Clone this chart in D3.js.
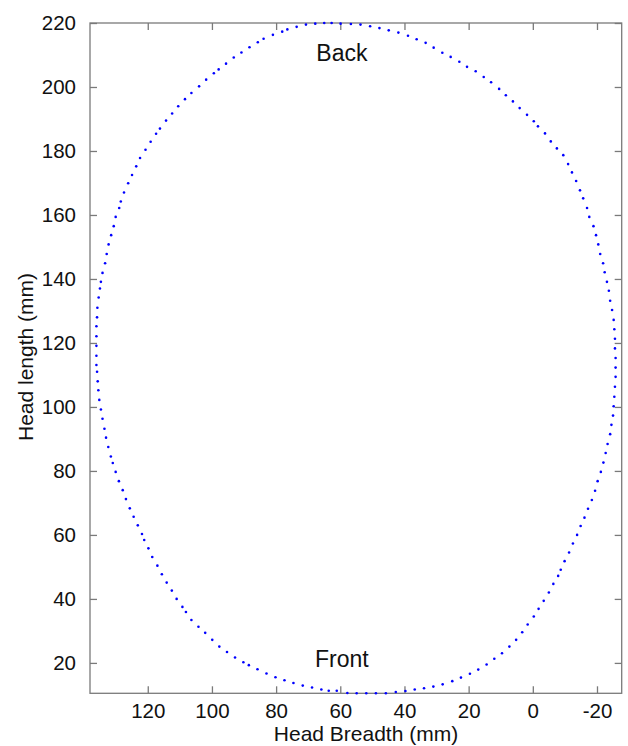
<!DOCTYPE html>
<html lang="en">
  <head>
    <meta charset="utf-8"/>
    <title>Head outline</title>
    <script src="https://cdn.jsdelivr.net/npm/d3@7/dist/d3.min.js"></script>
    <style>
      body { margin: 0; background: #fff; }
      svg text { font-family: "Liberation Sans", Arial, sans-serif; fill: #111; }
    </style>
  </head>
  <body>
    <div id="chart"></div>
    <script type="text/javascript">
     // outline points (mm)
     const breadth = [
       127.4,126.1,124.9,123.6,122.4,120.7,119.1,117.4,116.2,114.3,
       112.4,110.5,108.4,106.4,104.0,101.8,99.4,97.9,95.6,93.2,
       90.8,88.3,85.7,83.9,81.0,78.1,76.5,73.6,70.7,67.8,
       65.0,62.7,59.9,56.7,53.7,50.7,47.8,44.9,41.9,38.9,
       36.2,33.4,30.9,28.2,25.6,22.9,20.5,17.8,15.3,13.0,
       10.5,8.4,6.2,4.1,1.8,-0.3,-1.6,-3.8,-5.6,-7.5,
       -9.5,-11.0,-12.2,-13.5,-14.7,-15.7,-16.9,-17.6,-18.9,-19.7,
       -20.4,-21.0,-21.9,-22.4,-23.1,-23.7,-24.1,-24.7,-25.2,-25.4,
       -25.6,-25.6,-25.8,-25.8,-25.8,-25.6,-25.4,-25.2,-25.0,-24.5,
       -24.1,-23.3,-22.7,-22.0,-21.2,-20.2,-19.4,-18.4,-17.2,-16.1,
       -14.9,-13.8,-12.5,-11.3,-9.9,-8.7,-7.9,-6.4,-5.0,-3.4,
       -1.8,-0.3,1.6,3.3,5.2,7.3,9.6,12.0,14.4,17.0,
       19.6,22.4,25.1,28.1,31.0,33.9,36.8,39.7,42.7,45.8,
       48.9,51.9,54.9,57.8,61.1,63.6,65.9,68.8,71.7,74.6,
       77.4,80.2,83.0,85.8,88.5,90.2,92.8,95.3,97.7,99.9,
       102.1,104.2,106.4,108.1,109.2,111.0,112.5,114.1,115.6,117.0,
       118.6,119.8,121.1,121.8,123.1,124.4,125.6,126.8,127.8,129.0,
       130.0,130.9,131.5,132.3,133.0,133.5,134.1,134.6,135.1,135.4,
       135.6,135.8,136.0,136.0,136.0,136.0,136.0,135.8,135.7,135.3,
       134.9,134.6,134.1,133.3,132.8,132.2,131.4,130.6,130.0,128.9,
       128.4
     ];

     const length = [
       167.0,169.9,172.5,175.2,177.8,180.4,182.9,185.4,187.0,189.5,
       191.7,194.0,196.2,198.1,200.2,202.3,204.3,205.5,207.3,209.2,
       210.8,212.4,214.0,215.1,216.3,217.3,218.0,218.8,219.5,219.8,
       220.0,220.0,219.8,219.7,219.5,219.0,218.4,217.7,217.0,216.0,
       214.9,213.8,212.3,210.7,209.4,207.9,206.3,204.9,203.1,201.5,
       199.4,197.4,195.5,193.4,191.3,189.3,187.7,185.5,183.0,180.8,
       178.7,175.9,173.3,170.6,167.7,165.2,162.2,159.4,156.5,153.7,
       150.8,147.8,144.9,142.1,139.1,136.3,133.2,130.3,127.2,124.3,
       121.3,118.3,115.3,112.3,109.4,106.3,103.2,100.2,97.3,94.4,
       91.5,88.4,85.6,82.6,79.7,76.8,73.8,70.9,68.2,65.4,
       62.8,60.0,57.3,54.5,51.8,49.1,47.2,44.7,42.0,39.4,
       36.9,34.5,32.0,29.6,27.2,25.1,23.0,21.3,19.5,17.9,
       16.6,15.4,14.3,13.3,12.6,12.1,11.7,11.2,10.9,10.5,
       10.5,10.5,10.5,10.6,11.3,11.3,11.7,12.3,12.9,13.7,
       14.6,15.5,16.7,18.0,19.3,20.2,21.7,23.4,25.1,27.2,
       29.4,31.3,33.4,35.9,37.5,40.0,42.6,45.1,47.7,50.4,
       53.1,55.8,58.4,60.3,63.0,65.7,68.3,71.2,74.0,76.8,
       79.7,82.5,84.5,87.5,90.4,93.2,96.3,99.2,102.2,105.2,
       108.0,111.0,113.1,116.0,119.1,122.1,125.2,128.0,131.0,134.2,
       137.0,139.1,141.9,144.9,147.8,150.8,153.7,156.5,159.4,162.2,
       164.2
     ];

     const xTicks = [120, 100, 80, 60, 40, 20, 0, -20];
     const yTicks = [20, 40, 60, 80, 100, 120, 140, 160, 180, 200, 220];
     const xDomain = [138, -27.7];
     const yDomain = [10.5, 220];

     const notes = [
       {text: "Back",  x: 59.5, y: 208.1},
       {text: "Front", x: 59.5, y: 18.8}
     ];

     function HeadOutline() {
         let svgWidth = 628,
             svgHeight = 746;

         let margin = { top: 23, right: 6.3, bottom: 52.7, left: 90 },
             width = svgWidth - margin.left - margin.right,
             height = svgHeight - margin.top - margin.bottom;

         let svg = d3.select("#chart")
                     .append("svg")
                     .attr("width", svgWidth)
                     .attr("height", svgHeight)
                     .append("g")
                     .attr("transform", `translate(${margin.left}, ${margin.top})`);

         let xScale = d3.scaleLinear().domain(xDomain).range([0, width]);
         let yScale = d3.scaleLinear().domain(yDomain).range([height, 0]);

         let fmt = d => String(d);
         let axisColor = "#7a7a7a";

         // ticks point inwards on all four sides
         let xAxis = d3.axisBottom(xScale).tickValues(xTicks).tickFormat(fmt)
                       .tickSizeInner(-7).tickSizeOuter(0).tickPadding(10);
         let yAxis = d3.axisLeft(yScale).tickValues(yTicks).tickFormat(fmt)
                       .tickSizeInner(-7).tickSizeOuter(0).tickPadding(14);
         let xTop = d3.axisTop(xScale).tickValues(xTicks).tickFormat("")
                      .tickSizeInner(-7).tickSizeOuter(0);
         let yRight = d3.axisRight(yScale).tickValues(yTicks).tickFormat("")
                        .tickSizeInner(-7).tickSizeOuter(0);

         let gx = svg.append("g").attr("class", "x-axis")
                     .attr("transform", `translate(0, ${height})`).call(xAxis);
         let gy = svg.append("g").attr("class", "y-axis").call(yAxis);
         let gt = svg.append("g").call(xTop);
         let gr = svg.append("g").attr("transform", `translate(${width}, 0)`).call(yRight);

         [gx, gy, gt, gr].forEach(g => {
             g.select(".domain").remove();
             g.selectAll(".tick line").attr("stroke", axisColor).attr("stroke-width", 1.3);
             g.selectAll(".tick text").attr("font-size", 20.5).attr("fill", "#111")
              .attr("font-family", "'Liberation Sans', Arial, sans-serif");
         });

         svg.append("rect")
            .attr("x", 0).attr("y", 0)
            .attr("width", width).attr("height", height)
            .attr("fill", "none")
            .attr("stroke", axisColor)
            .attr("stroke-width", 1.3);

         let pts = breadth.map((b, i) => ({x: b, y: length[i]}));

         svg.append("g")
            .selectAll("circle")
            .data(pts)
            .join("circle")
            .attr("cx", d => xScale(d.x))
            .attr("cy", d => yScale(d.y))
            .attr("r", 1.3)
            .attr("fill", "#0000ff");

         svg.selectAll("text.note")
            .data(notes)
            .join("text")
            .attr("class", "note")
            .attr("x", d => xScale(d.x))
            .attr("y", d => yScale(d.y))
            .attr("text-anchor", "middle")
            .attr("font-size", 23)
            .text(d => d.text);

         svg.append("text")
            .attr("x", 366 - margin.left)
            .attr("y", 741 - margin.top)
            .attr("text-anchor", "middle")
            .attr("font-size", 21)
            .text("Head Breadth (mm)");

         svg.append("text")
            .attr("transform", `translate(${33 - margin.left}, ${357 - margin.top}) rotate(-90)`)
            .attr("text-anchor", "middle")
            .attr("font-size", 21)
            .text("Head length (mm)");
     }

     HeadOutline();
    </script>
  </body>
</html>
